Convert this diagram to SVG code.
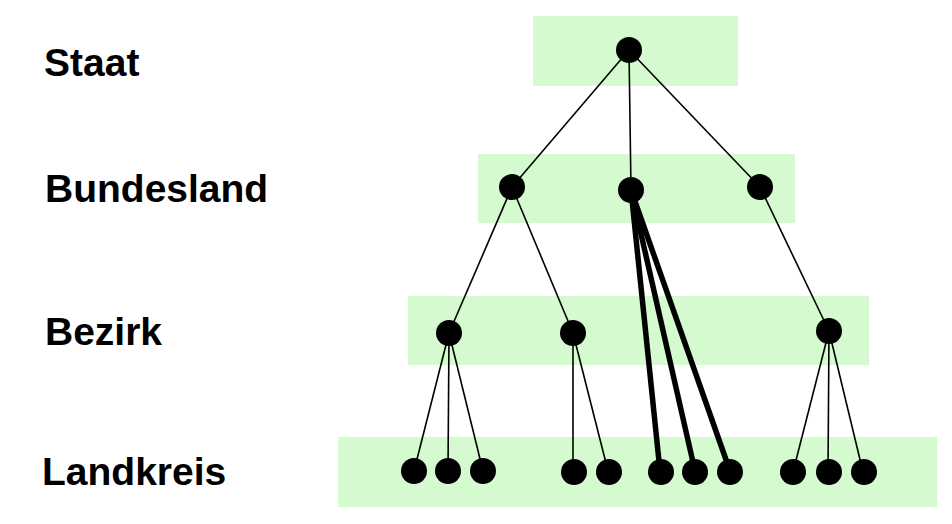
<svg xmlns="http://www.w3.org/2000/svg" width="952" height="524" viewBox="0 0 952 524">
<style>
.band{fill:#d5fad0}
.lbl{font-family:"Liberation Sans",Arial,sans-serif;font-weight:bold;font-size:39px;fill:#000}
.n{fill:#000}
.thin{stroke:#000;stroke-width:1.6;fill:none}
.thick{stroke:#000;stroke-width:5.5;fill:none}
</style>
<rect width="952" height="524" fill="#fff"/>
<g id="bands">
<rect class="band" x="533" y="16" width="205" height="70"/>
<rect class="band" x="478" y="154" width="317" height="69"/>
<rect class="band" x="408" y="296" width="461" height="69"/>
<rect class="band" x="338" y="437" width="599" height="70"/>
</g>
<g id="labels">
<text class="lbl" x="44" y="76">Staat</text>
<text class="lbl" x="45" y="202">Bundesland</text>
<text class="lbl" x="45" y="345">Bezirk</text>
<text class="lbl" x="42" y="485">Landkreis</text>
</g>
<g id="connectors">
<line class="thin" x1="629" y1="50" x2="512" y2="187"/>
<line class="thin" x1="629" y1="50" x2="631" y2="190"/>
<line class="thin" x1="629" y1="50" x2="760" y2="187"/>
<line class="thin" x1="512" y1="187" x2="449" y2="333"/>
<line class="thin" x1="512" y1="187" x2="573" y2="333"/>
<line class="thin" x1="760" y1="187" x2="829" y2="331"/>
<line class="thin" x1="449" y1="333" x2="414" y2="471"/>
<line class="thin" x1="449" y1="333" x2="448" y2="471"/>
<line class="thin" x1="449" y1="333" x2="483" y2="471"/>
<line class="thin" x1="573" y1="333" x2="573" y2="471"/>
<line class="thin" x1="573" y1="333" x2="608" y2="471"/>
<line class="thin" x1="829" y1="331" x2="793" y2="472"/>
<line class="thin" x1="829" y1="331" x2="828" y2="472"/>
<line class="thin" x1="829" y1="331" x2="863" y2="472"/>
<line class="thick" x1="631" y1="190" x2="660" y2="471"/>
<line class="thick" x1="631" y1="190" x2="695" y2="471"/>
<line class="thick" x1="631" y1="190" x2="730" y2="471"/>
</g>
<g id="node-staat"><circle class="n" cx="629" cy="50" r="13"/></g>
<g id="node-bl1"><circle class="n" cx="512" cy="187" r="13"/></g>
<g id="node-bl2"><circle class="n" cx="631" cy="190" r="13"/></g>
<g id="node-bl3"><circle class="n" cx="760" cy="187" r="13"/></g>
<g id="node-bz1"><circle class="n" cx="449" cy="333" r="13"/></g>
<g id="node-bz2"><circle class="n" cx="573" cy="333" r="13"/></g>
<g id="node-bz3"><circle class="n" cx="829" cy="331" r="13"/></g>
<g id="node-lk1"><circle class="n" cx="414" cy="471" r="13"/></g>
<g id="node-lk2"><circle class="n" cx="448" cy="471" r="13"/></g>
<g id="node-lk3"><circle class="n" cx="483" cy="471" r="13"/></g>
<g id="node-lk4"><circle class="n" cx="574" cy="472" r="13"/></g>
<g id="node-lk5"><circle class="n" cx="609" cy="472" r="13"/></g>
<g id="node-lk6"><circle class="n" cx="661" cy="472" r="13"/></g>
<g id="node-lk7"><circle class="n" cx="695" cy="472" r="13"/></g>
<g id="node-lk8"><circle class="n" cx="730" cy="472" r="13"/></g>
<g id="node-lk9"><circle class="n" cx="793" cy="472" r="13"/></g>
<g id="node-lk10"><circle class="n" cx="829" cy="472" r="13"/></g>
<g id="node-lk11"><circle class="n" cx="864" cy="472" r="13"/></g>
</svg>
